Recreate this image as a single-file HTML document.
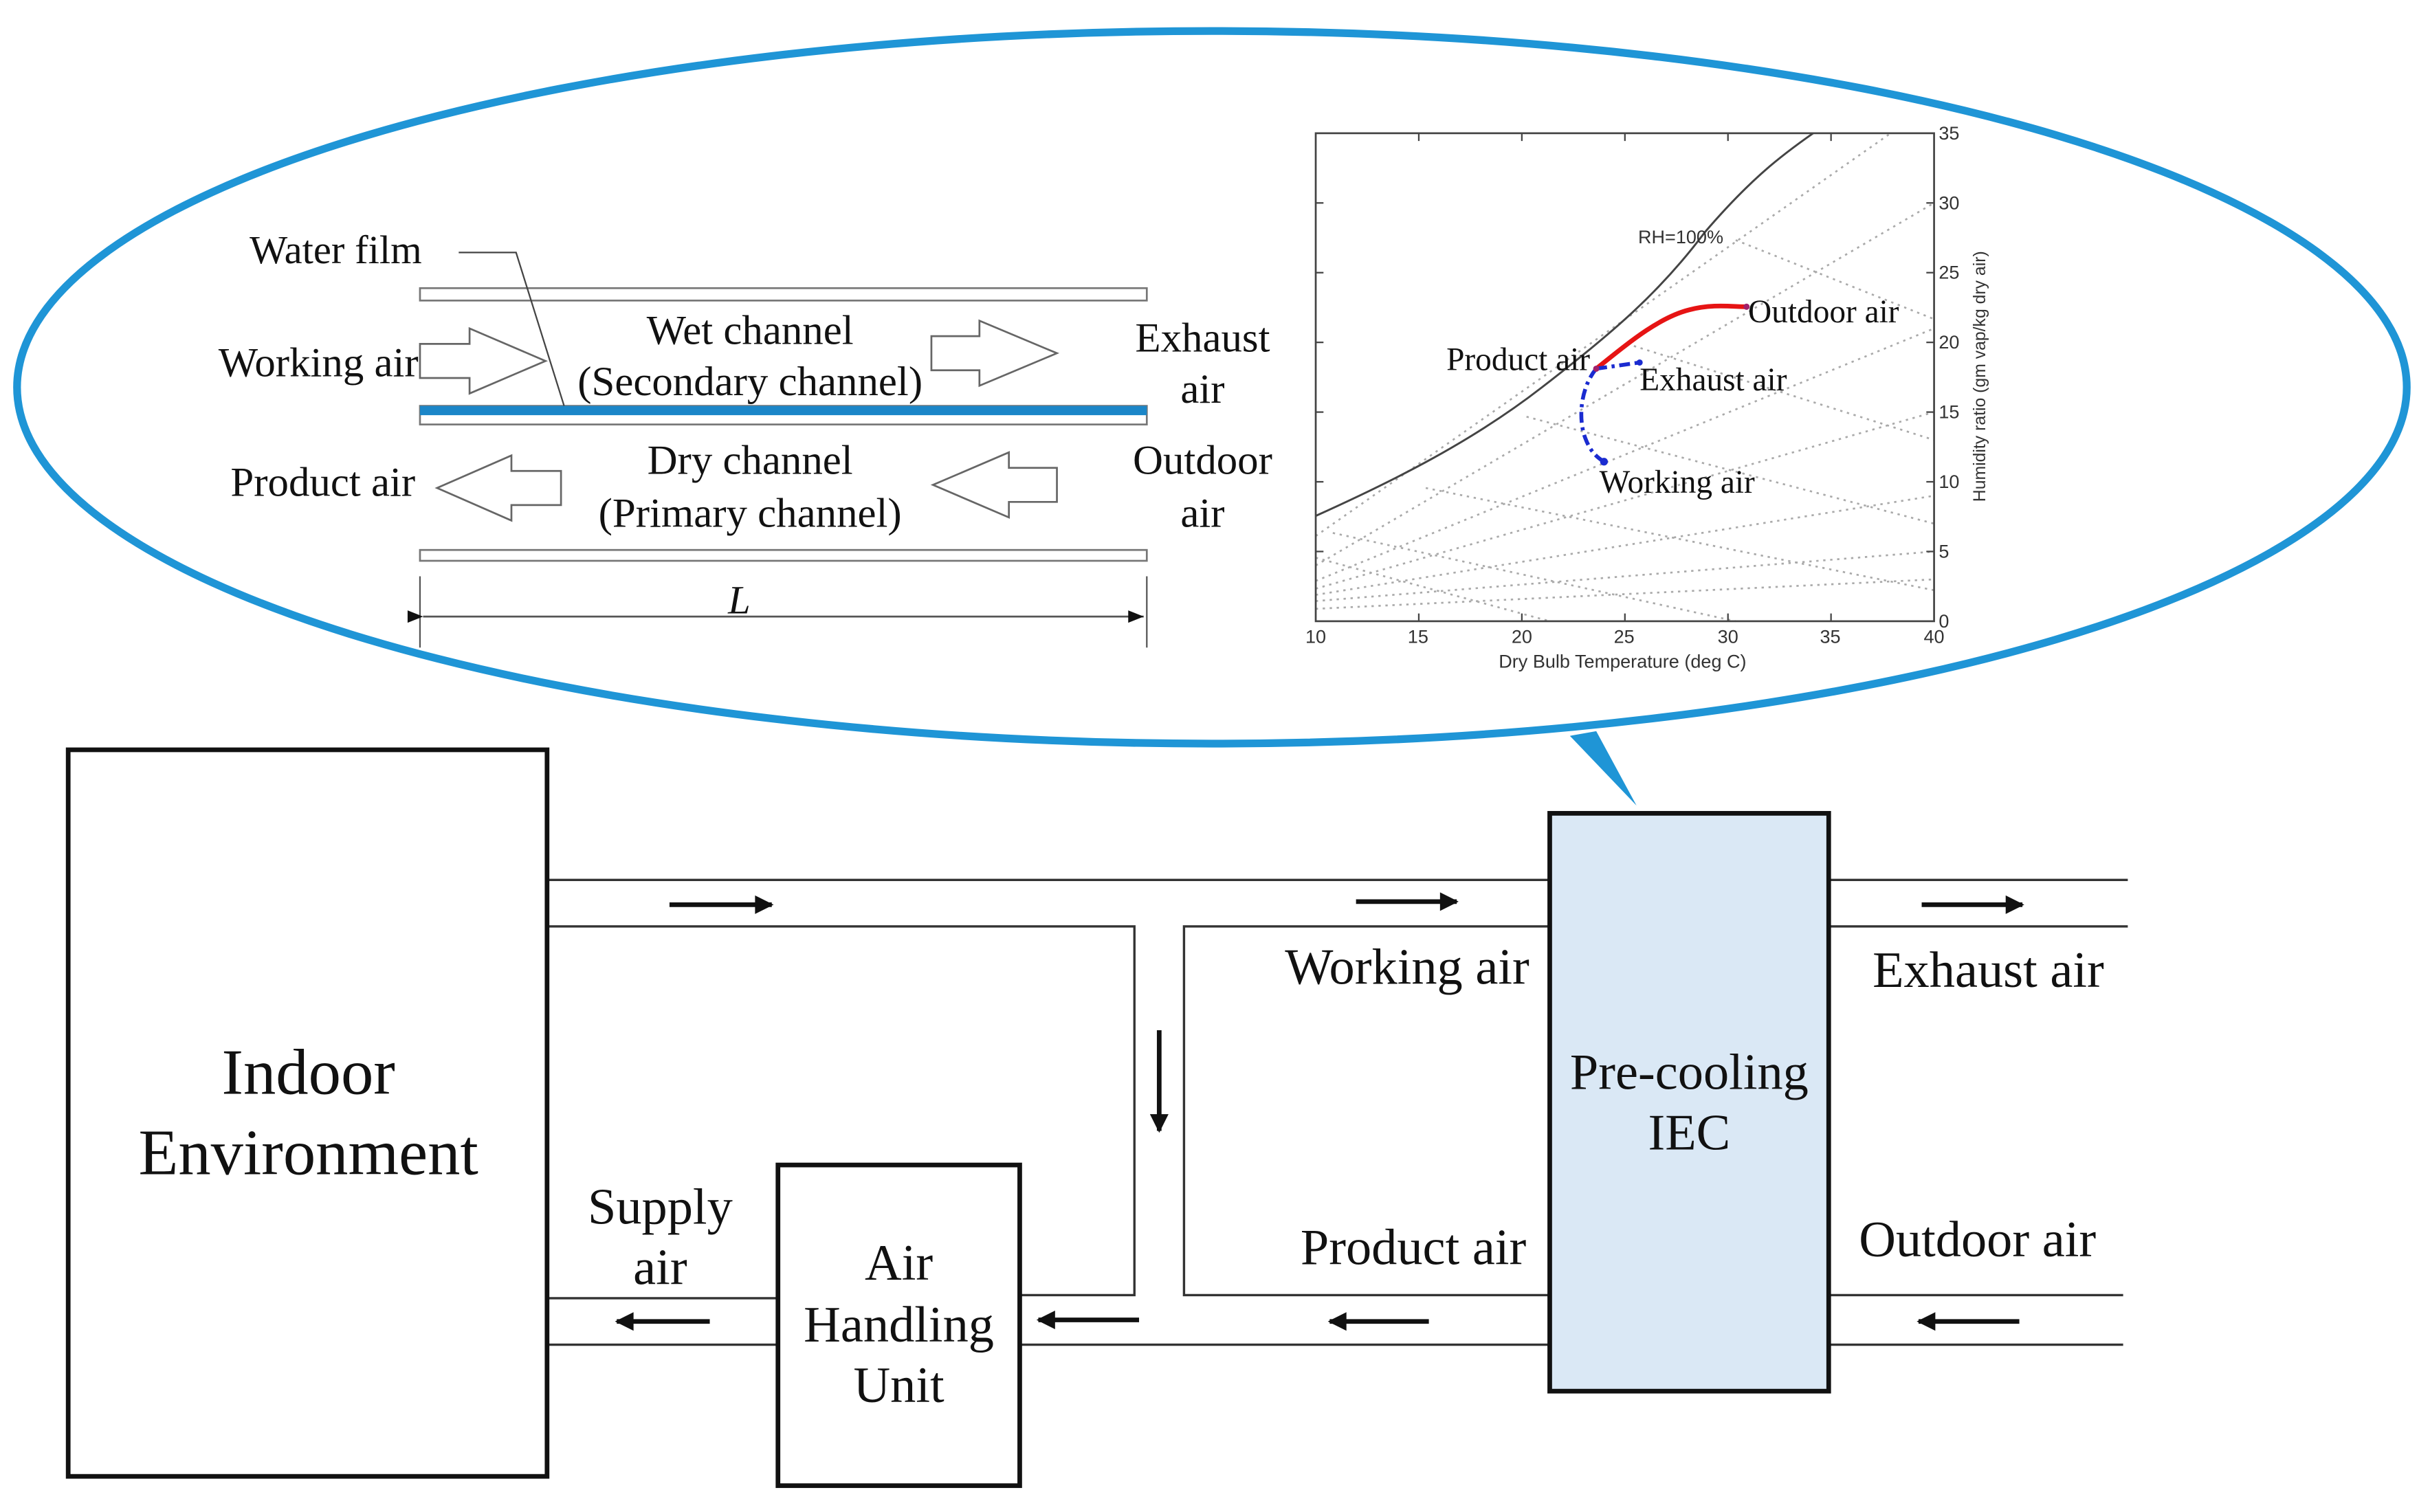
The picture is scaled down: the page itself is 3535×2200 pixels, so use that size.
<!DOCTYPE html>
<html><head><meta charset="utf-8"><style>
html,body{margin:0;padding:0;background:#fff}
svg{display:block}
text{font-family:"Liberation Serif",serif;fill:#111}
.s{font-family:"Liberation Sans",sans-serif;fill:#333}
</style></head><body>
<svg width="3535" height="2200" viewBox="0 0 1568 976" preserveAspectRatio="none" xmlns="http://www.w3.org/2000/svg">
<defs>
<marker id="ah" viewBox="0 0 10 10" refX="9" refY="5" markerWidth="5" markerHeight="4" orient="auto" markerUnits="strokeWidth"><path d="M0,0 L10,5 L0,10 z" fill="#111"/></marker>
<marker id="dh" viewBox="0 0 10 10" refX="10" refY="5" markerWidth="12" markerHeight="10" orient="auto" markerUnits="userSpaceOnUse"><path d="M0,1 L10,5 L0,9 z" fill="#111"/></marker>
</defs>
<ellipse cx="782" cy="250" rx="771" ry="230" fill="#fff" stroke="#1f95d6" stroke-width="5"/>
<path d="M1013,475 L1030,472 L1056,520 Z" fill="#1f95d6"/>

<rect x="271" y="186" width="469" height="8" fill="#fff" stroke="#777" stroke-width="1.2"/>
<rect x="271" y="262" width="469" height="12" fill="#fff" stroke="#777" stroke-width="1.2"/>
<rect x="271" y="262" width="469" height="6" fill="#1b86c8"/>
<rect x="271" y="355" width="469" height="7" fill="#fff" stroke="#777" stroke-width="1.2"/>
<line x1="271" y1="372" x2="271" y2="418" stroke="#555" stroke-width="1"/>
<line x1="740" y1="372" x2="740" y2="418" stroke="#555" stroke-width="1"/>
<line x1="273" y1="398" x2="738" y2="398" stroke="#555" stroke-width="1.2" marker-start="url(#dh)" marker-end="url(#dh)"/>
<text x="477" y="396" font-size="26" font-style="italic" text-anchor="middle">L</text>
<polyline points="296,163 333,163 364,262" fill="none" stroke="#444" stroke-width="1"/>
<text x="161" y="170" font-size="26">Water film</text>
<path d="M271,222 L303,222 L303,212 L352,233 L303,254 L303,244 L271,244 Z" fill="#fff" stroke="#666" stroke-width="1.2"/>
<path d="M601,217 L632,217 L632,207 L682,228 L632,249 L632,239 L601,239 Z" fill="#fff" stroke="#666" stroke-width="1.2"/>
<path d="M362,304 L330,304 L330,294 L282,315 L330,336 L330,326 L362,326 Z" fill="#fff" stroke="#666" stroke-width="1.2"/>
<path d="M682,302 L651,302 L651,292 L602,313 L651,334 L651,324 L682,324 Z" fill="#fff" stroke="#666" stroke-width="1.2"/>
<text x="270" y="243" font-size="27" text-anchor="end">Working air</text>
<text x="484" y="222" font-size="27" text-anchor="middle">Wet channel</text>
<text x="484" y="255" font-size="27" text-anchor="middle">(Secondary channel)</text>
<text x="776" y="227" font-size="27" text-anchor="middle">Exhaust</text>
<text x="776" y="260" font-size="27" text-anchor="middle">air</text>
<text x="268" y="320" font-size="27" text-anchor="end">Product air</text>
<text x="484" y="306" font-size="27" text-anchor="middle">Dry channel</text>
<text x="484" y="340" font-size="27" text-anchor="middle">(Primary channel)</text>
<text x="776" y="306" font-size="27" text-anchor="middle">Outdoor</text>
<text x="776" y="340" font-size="27" text-anchor="middle">air</text>

<g stroke="#aaa" stroke-width="1.2" stroke-dasharray="1.5,3" fill="none">
<line x1="849" y1="346" x2="1220" y2="86"/>
<line x1="849" y1="365" x2="1248" y2="131"/>
<line x1="849" y1="375" x2="1248" y2="212"/>
<line x1="849" y1="380" x2="1248" y2="266"/>
<line x1="849" y1="384" x2="1248" y2="320"/>
<line x1="849" y1="388" x2="1248" y2="356"/>
<line x1="849" y1="393" x2="1248" y2="374"/>
<line x1="1120" y1="155" x2="1248" y2="206"/>
<line x1="1050" y1="222" x2="1248" y2="284"/>
<line x1="985" y1="269" x2="1248" y2="338"/>
<line x1="920" y1="315" x2="1248" y2="381"/>
<line x1="860" y1="344" x2="1120" y2="401"/>
<line x1="849" y1="360" x2="1000" y2="401"/>
</g>
<path d="M849,333 C900,310 950,285 995,250 C1040,215 1070,190 1100,150 C1130,115 1150,100 1170,86" fill="none" stroke="#444" stroke-width="1.3"/>
<rect x="849" y="86" width="399" height="315" fill="none" stroke="#444" stroke-width="1.2"/>
<g stroke="#444" stroke-width="1">
<line x1="915.5" y1="401" x2="915.5" y2="396"/><line x1="982" y1="401" x2="982" y2="396"/><line x1="1048.5" y1="401" x2="1048.5" y2="396"/><line x1="1115" y1="401" x2="1115" y2="396"/><line x1="1181.5" y1="401" x2="1181.5" y2="396"/>
<line x1="915.5" y1="86" x2="915.5" y2="91"/><line x1="982" y1="86" x2="982" y2="91"/><line x1="1048.5" y1="86" x2="1048.5" y2="91"/><line x1="1115" y1="86" x2="1115" y2="91"/><line x1="1181.5" y1="86" x2="1181.5" y2="91"/>
<line x1="1243" y1="356" x2="1248" y2="356"/><line x1="1243" y1="311" x2="1248" y2="311"/><line x1="1243" y1="266" x2="1248" y2="266"/><line x1="1243" y1="221" x2="1248" y2="221"/><line x1="1243" y1="176" x2="1248" y2="176"/><line x1="1243" y1="131" x2="1248" y2="131"/>
<line x1="849" y1="356" x2="854" y2="356"/><line x1="849" y1="311" x2="854" y2="311"/><line x1="849" y1="266" x2="854" y2="266"/><line x1="849" y1="221" x2="854" y2="221"/><line x1="849" y1="176" x2="854" y2="176"/><line x1="849" y1="131" x2="854" y2="131"/>
</g>
<path d="M1030,238 C1050,222 1070,205 1090,200 C1105,196 1118,198 1127,198" fill="none" stroke="#e61414" stroke-width="3"/>
<path d="M1030,238 L1058,234" fill="none" stroke="#1a2bd0" stroke-width="2.5" stroke-dasharray="7,3,2,3"/>
<path d="M1030,238 C1020,250 1018,270 1023,283 C1026,291 1030,295 1035,298" fill="none" stroke="#1a2bd0" stroke-width="2.5" stroke-dasharray="7,3,2,3"/>
<circle cx="1127" cy="198" r="2" fill="#a0206a"/><circle cx="1030" cy="238" r="2" fill="#a0206a"/><circle cx="1058" cy="234" r="2" fill="#1a2bd0"/><circle cx="1035" cy="298" r="2.5" fill="#1a2bd0"/>
<text class="s" x="849" y="415" text-anchor="middle" font-size="12">10</text>
<text class="s" x="915" y="415" text-anchor="middle" font-size="12">15</text>
<text class="s" x="982" y="415" text-anchor="middle" font-size="12">20</text>
<text class="s" x="1048" y="415" text-anchor="middle" font-size="12">25</text>
<text class="s" x="1115" y="415" text-anchor="middle" font-size="12">30</text>
<text class="s" x="1181" y="415" text-anchor="middle" font-size="12">35</text>
<text class="s" x="1248" y="415" text-anchor="middle" font-size="12">40</text>
<text class="s" x="1251" y="405" font-size="12">0</text>
<text class="s" x="1251" y="360" font-size="12">5</text>
<text class="s" x="1251" y="315" font-size="12">10</text>
<text class="s" x="1251" y="270" font-size="12">15</text>
<text class="s" x="1251" y="225" font-size="12">20</text>
<text class="s" x="1251" y="180" font-size="12">25</text>
<text class="s" x="1251" y="135" font-size="12">30</text>
<text class="s" x="1251" y="90" font-size="12">35</text>
<text class="s" x="1047" y="431" text-anchor="middle" font-size="12">Dry Bulb Temperature (deg C)</text>
<text class="s" x="1057" y="157" font-size="12">RH=100%</text>
<text class="s" font-size="11" text-anchor="middle" transform="translate(1281,243) rotate(-90)">Humidity ratio (gm vap/kg dry air)</text>
<text x="1128" y="208" font-size="21">Outdoor air</text>
<text x="1026" y="239" font-size="21" text-anchor="end">Product air</text>
<text x="1058" y="252" font-size="21">Exhaust air</text>
<text x="1032" y="318" font-size="21">Working air</text>

<g stroke="#333" stroke-width="1.5" fill="none">
<line x1="353" y1="568" x2="1000" y2="568"/>
<polyline points="353,598 732,598 732,836 658,836"/>
<polyline points="1000,836 764,836 764,598 1000,598"/>
<line x1="658" y1="868" x2="1000" y2="868"/>
<line x1="353" y1="838" x2="502" y2="838"/>
<line x1="353" y1="868" x2="502" y2="868"/>
<line x1="1180" y1="568" x2="1373" y2="568"/>
<line x1="1180" y1="598" x2="1373" y2="598"/>
<line x1="1180" y1="836" x2="1370" y2="836"/>
<line x1="1180" y1="868" x2="1370" y2="868"/>
</g>
<rect x="44" y="484" width="309" height="469" fill="#fff" stroke="#111" stroke-width="3"/>
<rect x="502" y="752" width="156" height="207" fill="#fff" stroke="#111" stroke-width="3"/>
<rect x="1000" y="525" width="180" height="373" fill="#dae8f5" stroke="#111" stroke-width="3"/>
<text x="199" y="706" font-size="42" text-anchor="middle">Indoor</text>
<text x="199" y="758" font-size="42" text-anchor="middle">Environment</text>
<text x="580" y="826" font-size="33" text-anchor="middle">Air</text>
<text x="580" y="866" font-size="33" text-anchor="middle">Handling</text>
<text x="580" y="905" font-size="33" text-anchor="middle">Unit</text>
<text x="1090" y="703" font-size="33" text-anchor="middle">Pre-cooling</text>
<text x="1090" y="742" font-size="33" text-anchor="middle">IEC</text>
<text x="908" y="635" font-size="33" text-anchor="middle">Working air</text>
<text x="1283" y="637" font-size="33" text-anchor="middle">Exhaust air</text>
<text x="912" y="816" font-size="33" text-anchor="middle">Product air</text>
<text x="1276" y="811" font-size="33" text-anchor="middle">Outdoor air</text>
<text x="426" y="790" font-size="33" text-anchor="middle">Supply</text>
<text x="426" y="829" font-size="33" text-anchor="middle">air</text>
<g stroke="#111" stroke-width="3" marker-end="url(#ah)">
<line x1="432" y1="584" x2="498" y2="584"/>
<line x1="875" y1="582" x2="940" y2="582"/>
<line x1="1240" y1="584" x2="1305" y2="584"/>
<line x1="748" y1="665" x2="748" y2="730"/>
<line x1="458" y1="853" x2="398" y2="853"/>
<line x1="735" y1="852" x2="670" y2="852"/>
<line x1="922" y1="853" x2="858" y2="853"/>
<line x1="1303" y1="853" x2="1238" y2="853"/>
</g>
</svg>
</body></html>
